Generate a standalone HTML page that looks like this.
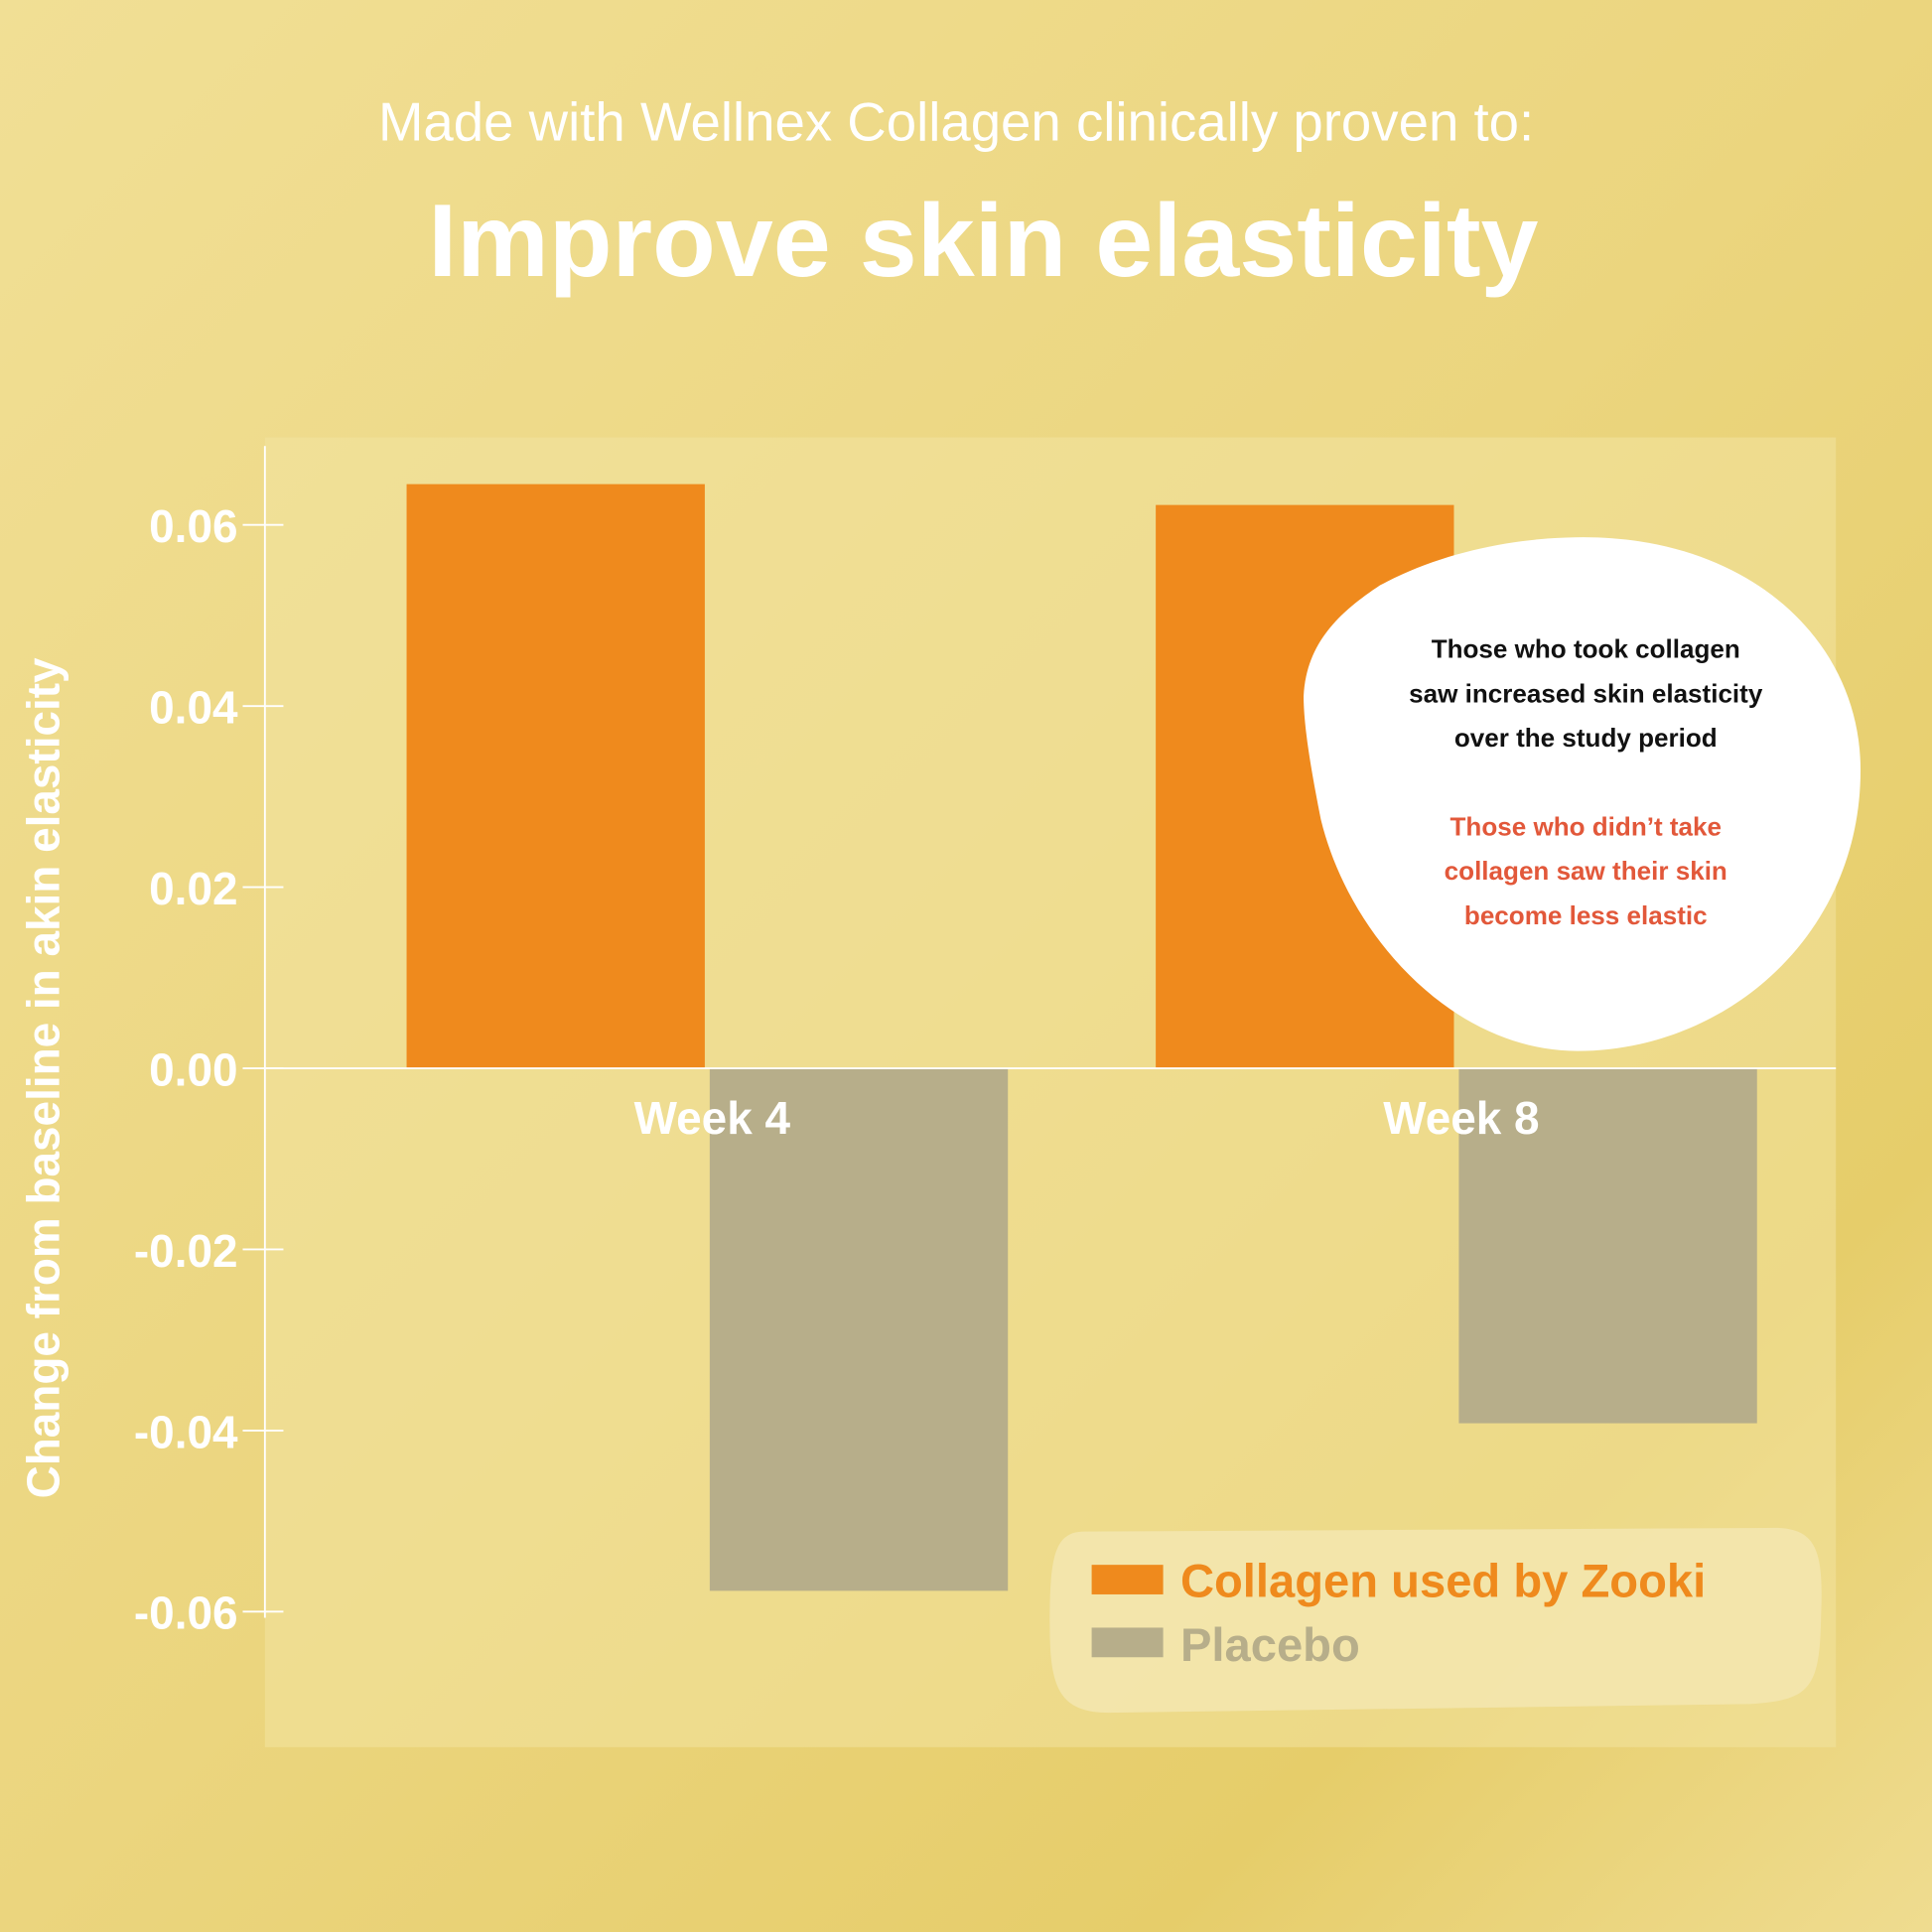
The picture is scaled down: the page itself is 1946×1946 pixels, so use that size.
<!DOCTYPE html>
<html><head><meta charset="utf-8"><style>
html,body{margin:0;padding:0;width:1946px;height:1946px;overflow:hidden}
svg{display:block}
text{font-family:"Liberation Sans",sans-serif}
</style></head><body>
<svg id="chart" width="1946" height="1946" viewBox="0 0 1568 1568">
<defs>
<linearGradient id="bg" x1="0" y1="0" x2="1" y2="1">
<stop offset="0" stop-color="#f1df95"/><stop offset="0.5" stop-color="#ebd57e"/><stop offset="0.8" stop-color="#e6cd6a"/><stop offset="1" stop-color="#efdc90"/>
</linearGradient>
</defs>
<rect width="1568" height="1568" fill="url(#bg)"/>
<text x="776" y="114" text-anchor="middle" font-size="44" fill="#fff">Made with Wellnex Collagen clinically proven to:</text>
<text x="798" y="224" text-anchor="middle" font-size="84" font-weight="bold" fill="#fff">Improve skin elasticity</text>
<rect x="215" y="355" width="1275" height="1063" fill="#f3e4a0" opacity="0.55"/>
<g id="axis"></g>
<g id="bars"></g>
<line x1="215" y1="867" x2="1490" y2="867" stroke="#fff" stroke-width="1.5"/>
<text x="48" y="875" transform="rotate(-90 48 875)" text-anchor="middle" font-size="37" font-weight="bold" fill="#fff">Change from baseline in akin elasticity</text>
<path d="M1285,436 C1420,436 1510,520 1510,625 C1510,760 1400,853 1280,853 C1180,853 1095,760 1072,665 C1062,615 1058,585 1058,565 C1060,520 1090,495 1120,475 C1170,448 1230,436 1285,436 Z" fill="#fff"/>
<g font-size="21" font-weight="bold" text-anchor="middle">
<text x="1287" y="534" fill="#111">Those who took collagen</text>
<text x="1287" y="570" fill="#111">saw increased skin elasticity</text>
<text x="1287" y="606" fill="#111">over the study period</text>
<text x="1287" y="678" fill="#e2583a">Those who didn’t take</text>
<text x="1287" y="714" fill="#e2583a">collagen saw their skin</text>
<text x="1287" y="750" fill="#e2583a">become less elastic</text>
</g>
<path d="M880,1243 L1440,1240 C1475,1240 1480,1260 1478,1310 C1477,1370 1470,1380 1420,1383 L900,1390 C860,1390 852,1370 852,1320 C852,1265 855,1243 880,1243 Z" fill="#f3e6b0" opacity="0.85"/>
<rect x="886" y="1270" width="58" height="24" fill="#ef8a1d"/>
<text x="958" y="1296" font-size="38" font-weight="bold" fill="#ef8a1d">Collagen used by Zooki</text>
<rect x="886" y="1321" width="58" height="24" fill="#b7ae8a"/>
<text x="958" y="1348" font-size="38" font-weight="bold" fill="#b7ae8a">Placebo</text>
</svg>
<script>
const categories = ["Week 4", "Week 8"];
const collagenValues = [0.0645, 0.0622];
const placeboValues = [-0.0577, -0.0392];
const tickValues = [0.06, 0.04, 0.02, 0.00, -0.02, -0.04, -0.06];
const tickLabels = ["0.06", "0.04", "0.02", "0.00", "-0.02", "-0.04", "-0.06"];
const NS = "http://www.w3.org/2000/svg";
function yScale(v){ return 867 - v * 7350; }
function xGroup(i){ return 330 + i * 608; }
const axis = document.getElementById('axis');
const bars = document.getElementById('bars');
function mk(tag, attrs, parent){ const e=document.createElementNS(NS,tag); for(const k in attrs) e.setAttribute(k,attrs[k]); parent.appendChild(e); return e; }
const al = mk('line',{x1:215,y1:362,x2:215,y2:1313,stroke:'#fff','stroke-width':1.5},axis);


tickValues.forEach((v,i)=>{
  const y=yScale(v);
  const t=mk('line',{x1:197,y1:y,x2:230,y2:y,stroke:'#fff','stroke-width':1.5},axis);
  
  
  const l=mk('text',{x:193,y:y+14,'text-anchor':'end','font-size':37,'font-weight':'bold',fill:'#fff'},axis);
  l.textContent=tickLabels[i];
  
  
});
categories.forEach((c,i)=>{
  const x=xGroup(i);
  const cv=collagenValues[i], pv=placeboValues[i];
  const b1=mk('rect',{x:x,y:Math.min(yScale(cv),yScale(0)),width:242,height:Math.abs(yScale(cv)-yScale(0)),fill:'#ef8a1d'},bars);
  
  
  const b2=mk('rect',{x:x+246,y:Math.min(yScale(pv),yScale(0)),width:242,height:Math.abs(yScale(pv)-yScale(0)),fill:'#b7ae8a'},bars);
  
  
  const lab=mk('text',{x:x+248,y:920,'text-anchor':'middle','font-size':37,'font-weight':'bold',fill:'#fff'},bars);
  lab.textContent=c;
  
  
});
</script>
</body></html>
